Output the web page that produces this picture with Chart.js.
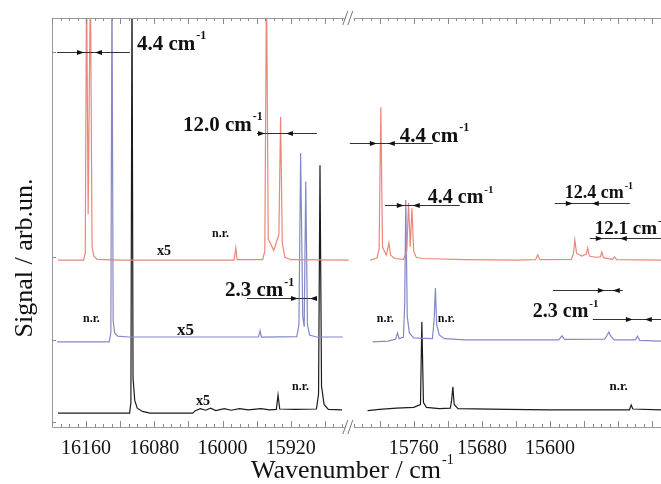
<!DOCTYPE html>
<html>
<head>
<meta charset="utf-8">
<script src="https://cdn.jsdelivr.net/npm/chart.js@4/dist/chart.umd.min.js"></script>
<style>
  html, body { margin: 0; padding: 0; background: #fff; overflow: hidden; }
</style>
</head>
<body>
<canvas id="myChart" width="661" height="484"></canvas>
<script>
// Spectra: [wavenumber cm-1, signal (arb. units, traces offset)]
// left part of the broken axis (16200 .. 15852) and right part (15836 .. 15470)
var redLeft = [
  [16193, 40.8], [16163, 40.8], [16161, 42.5], [16159.5, 110], [16157.6, 52], [16155, 110],
  [16153, 44], [16151, 41.8], [16147, 41.0], [16120, 40.8], [15986.5, 40.8], [15984.5, 43.8],
  [15983, 40.9], [15953, 40.9], [15950.5, 43], [15948.5, 110], [15946.5, 46], [15940, 43.2],
  [15934, 47], [15932, 75.8], [15930, 45], [15927, 41.5], [15920, 40.9], [15852, 40.8]
];
var redRight = [
  [15811, 40.8], [15803, 41.3], [15800.5, 43.5], [15798.5, 78.2], [15796.5, 44], [15792, 42],
  [15789, 45], [15787, 42], [15782, 41.2], [15772, 41], [15768, 43], [15766, 54.8], [15764, 44],
  [15762, 53.5], [15760, 43], [15757, 41.5], [15750, 41.2], [15700, 40.9], [15640, 40.8],
  [15617, 40.9], [15614.5, 42.1], [15612, 40.9], [15575, 41], [15572.5, 42.5], [15571, 45.7],
  [15569, 42.5], [15563, 41.8], [15557.5, 42.3], [15556, 43.8], [15554, 41.8], [15547, 41.5],
  [15541, 41.6], [15539.4, 42.8], [15537.5, 41.4], [15527, 41.0], [15524.5, 41.6], [15522, 40.9],
  [15470, 40.8]
];
var blueLeft = [
  [16194, 20.8], [16133, 20.8], [16131, 23], [16129.7, 110], [16128.3, 26], [16126.5, 23],
  [16123, 22.2], [16110, 22.0], [15958, 22.0], [15956, 23.5], [15954.5, 22.0], [15913, 22.1],
  [15910.5, 25], [15908.5, 67], [15906, 27], [15904.3, 24.5], [15902.5, 60], [15900.5, 25],
  [15898, 22.5], [15890, 22.0], [15859, 22.0]
];
var blueRight = [
  [15808, 20.8], [15790, 21.0], [15781, 21.5], [15779, 23], [15777, 21.6], [15772, 22],
  [15770.5, 30], [15769.2, 55.5], [15767.5, 27], [15765, 23], [15760, 21.8], [15738, 21.6],
  [15736, 26], [15734.5, 34], [15733, 25], [15730, 22.5], [15724, 21.6], [15700, 21.3],
  [15590, 21.3], [15586, 22.3], [15583, 21.4], [15536, 21.5], [15533, 22.5], [15531.2, 23.2],
  [15529, 22.3], [15525, 21.3], [15500, 21.3], [15497.5, 22.2], [15495, 21.2], [15470, 21.0]
];
var blackLeft = [
  [16193, 3.4], [16109, 3.4], [16107.5, 6], [16106.2, 110], [16105, 12], [16103, 6.5],
  [16100, 4.6], [16094, 3.8], [16085, 3.4], [16035, 3.4], [16032, 4.0], [16026, 4.5],
  [16020, 4.1], [16014, 4.6], [16008, 4.0], [15998, 4.5], [15990, 4.1], [15980, 4.5],
  [15970, 4.2], [15955, 4.5], [15945, 4.2], [15937, 4.3], [15935, 7.8], [15933, 4.4],
  [15915, 4.3], [15890, 4.4], [15887.5, 8], [15885.8, 64], [15884, 10], [15881, 5.5],
  [15876, 4.3], [15860, 4.2]
];
var blackRight = [
  [15814, 4.0], [15800, 4.3], [15780, 4.6], [15760, 4.8], [15752, 5.5], [15750.4, 25.7],
  [15748.5, 6], [15745, 4.8], [15730, 4.5], [15717, 4.6], [15715.5, 6.5], [15714, 9.8],
  [15712.5, 5.5], [15708, 4.5], [15650, 4.3], [15600, 4.2], [15507, 4.2], [15505, 5.4],
  [15503, 4.4], [15470, 4.2]
];
var ticksLeft = [16160, 16080, 16000, 15920];
var ticksRight = [15760, 15680, 15600];

var RED = '#e98878', BLUE = '#8388c6', BLACK = '#1c1c1c';
var SERIF = '"Liberation Serif", "Times New Roman", serif';

function pts(arr) {
  return arr.map(function (p) { return { x: p[0], y: p[1] }; });
}
function ds(arr, axis, color) {
  return { data: pts(arr), xAxisID: axis, yAxisID: 'y', borderColor: color, borderWidth: 1.2,
           pointRadius: 0, tension: 0, fill: false };
}

// frame, inward ticks, axis break, annotations
var decorPlugin = {
  id: 'decor',
  afterDraw: function (chart) {
    var ctx = chart.ctx, a = chart.chartArea;
    var xL = chart.scales.xL, xR = chart.scales.xR, ys = chart.scales.y;
    var W = chart.width;
    function px(w) { return w >= 15845 ? xL.getPixelForValue(w) : xR.getPixelForValue(w); }
    function py(v) { return ys.getPixelForValue(v); }

    ctx.save();
    ctx.strokeStyle = '#9a9a9a';
    ctx.lineWidth = 1;
    ctx.beginPath();
    ctx.moveTo(W, a.top + 0.5); ctx.lineTo(a.left + 0.5, a.top + 0.5);
    ctx.lineTo(a.left + 0.5, a.bottom + 0.5); ctx.lineTo(W, a.bottom + 0.5);
    ctx.stroke();

    // ticks along top and bottom
    ctx.strokeStyle = '#8a8a8a';
    [xL, xR].forEach(function (s) {
      for (var w = Math.ceil(s.min / 10) * 10; w <= s.max; w += 10) {
        var x = Math.round(s.getPixelForValue(w)) + 0.5;
        var len = (w % 40 === 0) ? 6 : 3;
        ctx.beginPath();
        ctx.moveTo(x, a.bottom); ctx.lineTo(x, a.bottom - len);
        ctx.moveTo(x, a.top); ctx.lineTo(x, a.top + len);
        ctx.stroke();
      }
    });
    [1.2, 21.3, 41.6, 91.7].forEach(function (v) {
      var y = Math.round(py(v)) + 0.5;
      ctx.beginPath(); ctx.moveTo(a.left, y); ctx.lineTo(a.left + 4, y); ctx.stroke();
    });

    // axis break marks
    var bx = xL.right;
    [a.top, a.bottom].forEach(function (yy) {
      ctx.fillStyle = '#fff';
      ctx.fillRect(bx - 4, yy - 2, 9, 4);
      ctx.strokeStyle = '#777';
      ctx.beginPath();
      ctx.moveTo(bx - 6, yy + 7); ctx.lineTo(bx - 1, yy - 7);
      ctx.moveTo(bx - 1, yy + 7); ctx.lineTo(bx + 4, yy - 7);
      ctx.stroke();
    });

    // width arrows
    function head(x, y, dir) {
      ctx.beginPath();
      ctx.moveTo(x, y); ctx.lineTo(x - dir * 7, y - 2.5); ctx.lineTo(x - dir * 7, y + 2.5);
      ctx.closePath(); ctx.fill();
    }
    function arrowRow(w0, w1, v, tipR, tipL) {
      var y = Math.round(py(v)) + 0.5;
      var x0 = Math.min(px(w0), W), x1 = Math.min(px(w1), W);
      ctx.strokeStyle = '#333'; ctx.fillStyle = '#111'; ctx.lineWidth = 1;
      ctx.beginPath(); ctx.moveTo(x0, y); ctx.lineTo(x1, y); ctx.stroke();
      head(px(tipR), y, 1);
      head(px(tipL), y, -1);
    }
    function cm(text, w, v, size) {
      var x = px(w), y = py(v);
      ctx.fillStyle = '#111';
      ctx.textAlign = 'left'; ctx.textBaseline = 'alphabetic';
      ctx.font = 'bold ' + size + 'px ' + SERIF;
      ctx.fillText(text + ' cm', x, y);
      var tw = ctx.measureText(text + ' cm').width;
      ctx.font = 'bold ' + Math.round(size * 0.55) + 'px ' + SERIF;
      ctx.fillText('-1', x + tw + 1, y - size * 0.5);
    }
    function label(text, w, v, size) {
      ctx.fillStyle = '#111';
      ctx.textAlign = 'left'; ctx.textBaseline = 'alphabetic';
      ctx.font = 'bold ' + size + 'px ' + SERIF;
      ctx.fillText(text, px(w), py(v));
    }

    arrowRow(16194, 16108.6, 91.7, 16162.5, 16149.6);
    cm('4.4', 16100.4, 92.2, 21);
    arrowRow(15959.7, 15889.4, 71.9, 15950.3, 15925.7);
    cm('12.0', 16046.4, 72.4, 21);
    arrowRow(15834.8, 15737.5, 69.4, 15803.2, 15790.3);
    cm('4.4', 15776.2, 69.7, 21);
    arrowRow(15793.8, 15705.9, 54.3, 15771.5, 15761);
    cm('4.4', 15743.4, 54.8, 20);
    arrowRow(15594.5, 15506.6, 54.8, 15573.4, 15551.1);
    cm('12.4', 15582.8, 56, 18);
    arrowRow(15553.5, 15470, 46.2, 15538.2, 15518.3);
    cm('12.1', 15547.7, 47.2, 19);
    arrowRow(15971.4, 15889.4, 31.5, 15911.6, 15897.5);
    cm('2.3', 15997.2, 32, 21);
    arrowRow(15596.8, 15514.8, 33.5, 15535.9, 15526.5);
    arrowRow(15549.9, 15470, 26.4, 15503, 15489);
    cm('2.3', 15620.3, 26.9, 20);

    label('n.r.', 16012.4, 46.5, 12);
    label('x5', 16076.9, 42, 14);
    label('n.r.', 16163.7, 25.7, 12);
    label('x5', 16053.5, 22.5, 17);
    label('x5', 16031.2, 5.4, 14);
    label('n.r.', 15918.6, 9, 12);
    label('n.r.', 15803.2, 25.7, 12);
    label('n.r.', 15731.7, 25.7, 12);
    label('n.r.', 15530.3, 9, 13);

    // axis titles
    ctx.fillStyle = '#111';
    ctx.font = '26px ' + SERIF;
    var t = 'Wavenumber / cm';
    var tw = ctx.measureText(t).width;
    var tx = 352 - (tw + 12) / 2;
    ctx.textAlign = 'left';
    ctx.fillText(t, tx, 478);
    ctx.font = '14px ' + SERIF;
    ctx.fillText('-1', tx + tw + 1, 464);

    ctx.translate(25, 258);
    ctx.rotate(-Math.PI / 2);
    ctx.font = '26px ' + SERIF;
    ctx.textAlign = 'center'; ctx.textBaseline = 'middle';
    ctx.fillText('Signal / arb.un.', 0, 0);
    ctx.restore();
  }
};

function fitX(s) { s.paddingLeft = 0; s.paddingRight = 0; s.height = 34; }

var ctx = document.getElementById('myChart').getContext('2d');
var myChart = new Chart(ctx, {
  type: 'line',
  data: {
    datasets: [
      ds(redLeft, 'xL', RED), ds(redRight, 'xR', RED),
      ds(blueLeft, 'xL', BLUE), ds(blueRight, 'xR', BLUE),
      ds(blackLeft, 'xL', BLACK), ds(blackRight, 'xR', BLACK)
    ]
  },
  options: {
    responsive: false,
    animation: false,
    layout: { padding: { left: 52, top: 18, right: 0, bottom: 23 } },
    plugins: { legend: { display: false }, tooltip: { enabled: false } },
    scales: {
      xL: {
        type: 'linear', position: 'bottom', stack: 'wn', stackWeight: 348,
        min: 15852, max: 16200, reverse: true,
        grid: { display: false, drawTicks: false }, border: { display: false },
        afterBuildTicks: function (s) { s.ticks = ticksLeft.map(function (v) { return { value: v }; }); },
        afterFit: fitX,
        ticks: { color: '#111', font: { family: SERIF, size: 20 }, padding: 10, maxRotation: 0, autoSkip: false,
                 callback: function (v) { return String(v); } }
      },
      xR: {
        type: 'linear', position: 'bottom', stack: 'wn', stackWeight: 366,
        min: 15470, max: 15836, reverse: true,
        grid: { display: false, drawTicks: false }, border: { display: false },
        afterBuildTicks: function (s) { s.ticks = ticksRight.map(function (v) { return { value: v }; }); },
        afterFit: fitX,
        ticks: { color: '#111', font: { family: SERIF, size: 20 }, padding: 10, maxRotation: 0, autoSkip: false,
                 callback: function (v) { return String(v); } }
      },
      y: { type: 'linear', min: 0, max: 100, display: false }
    }
  },
  plugins: [decorPlugin]
});
</script>
</body>
</html>
